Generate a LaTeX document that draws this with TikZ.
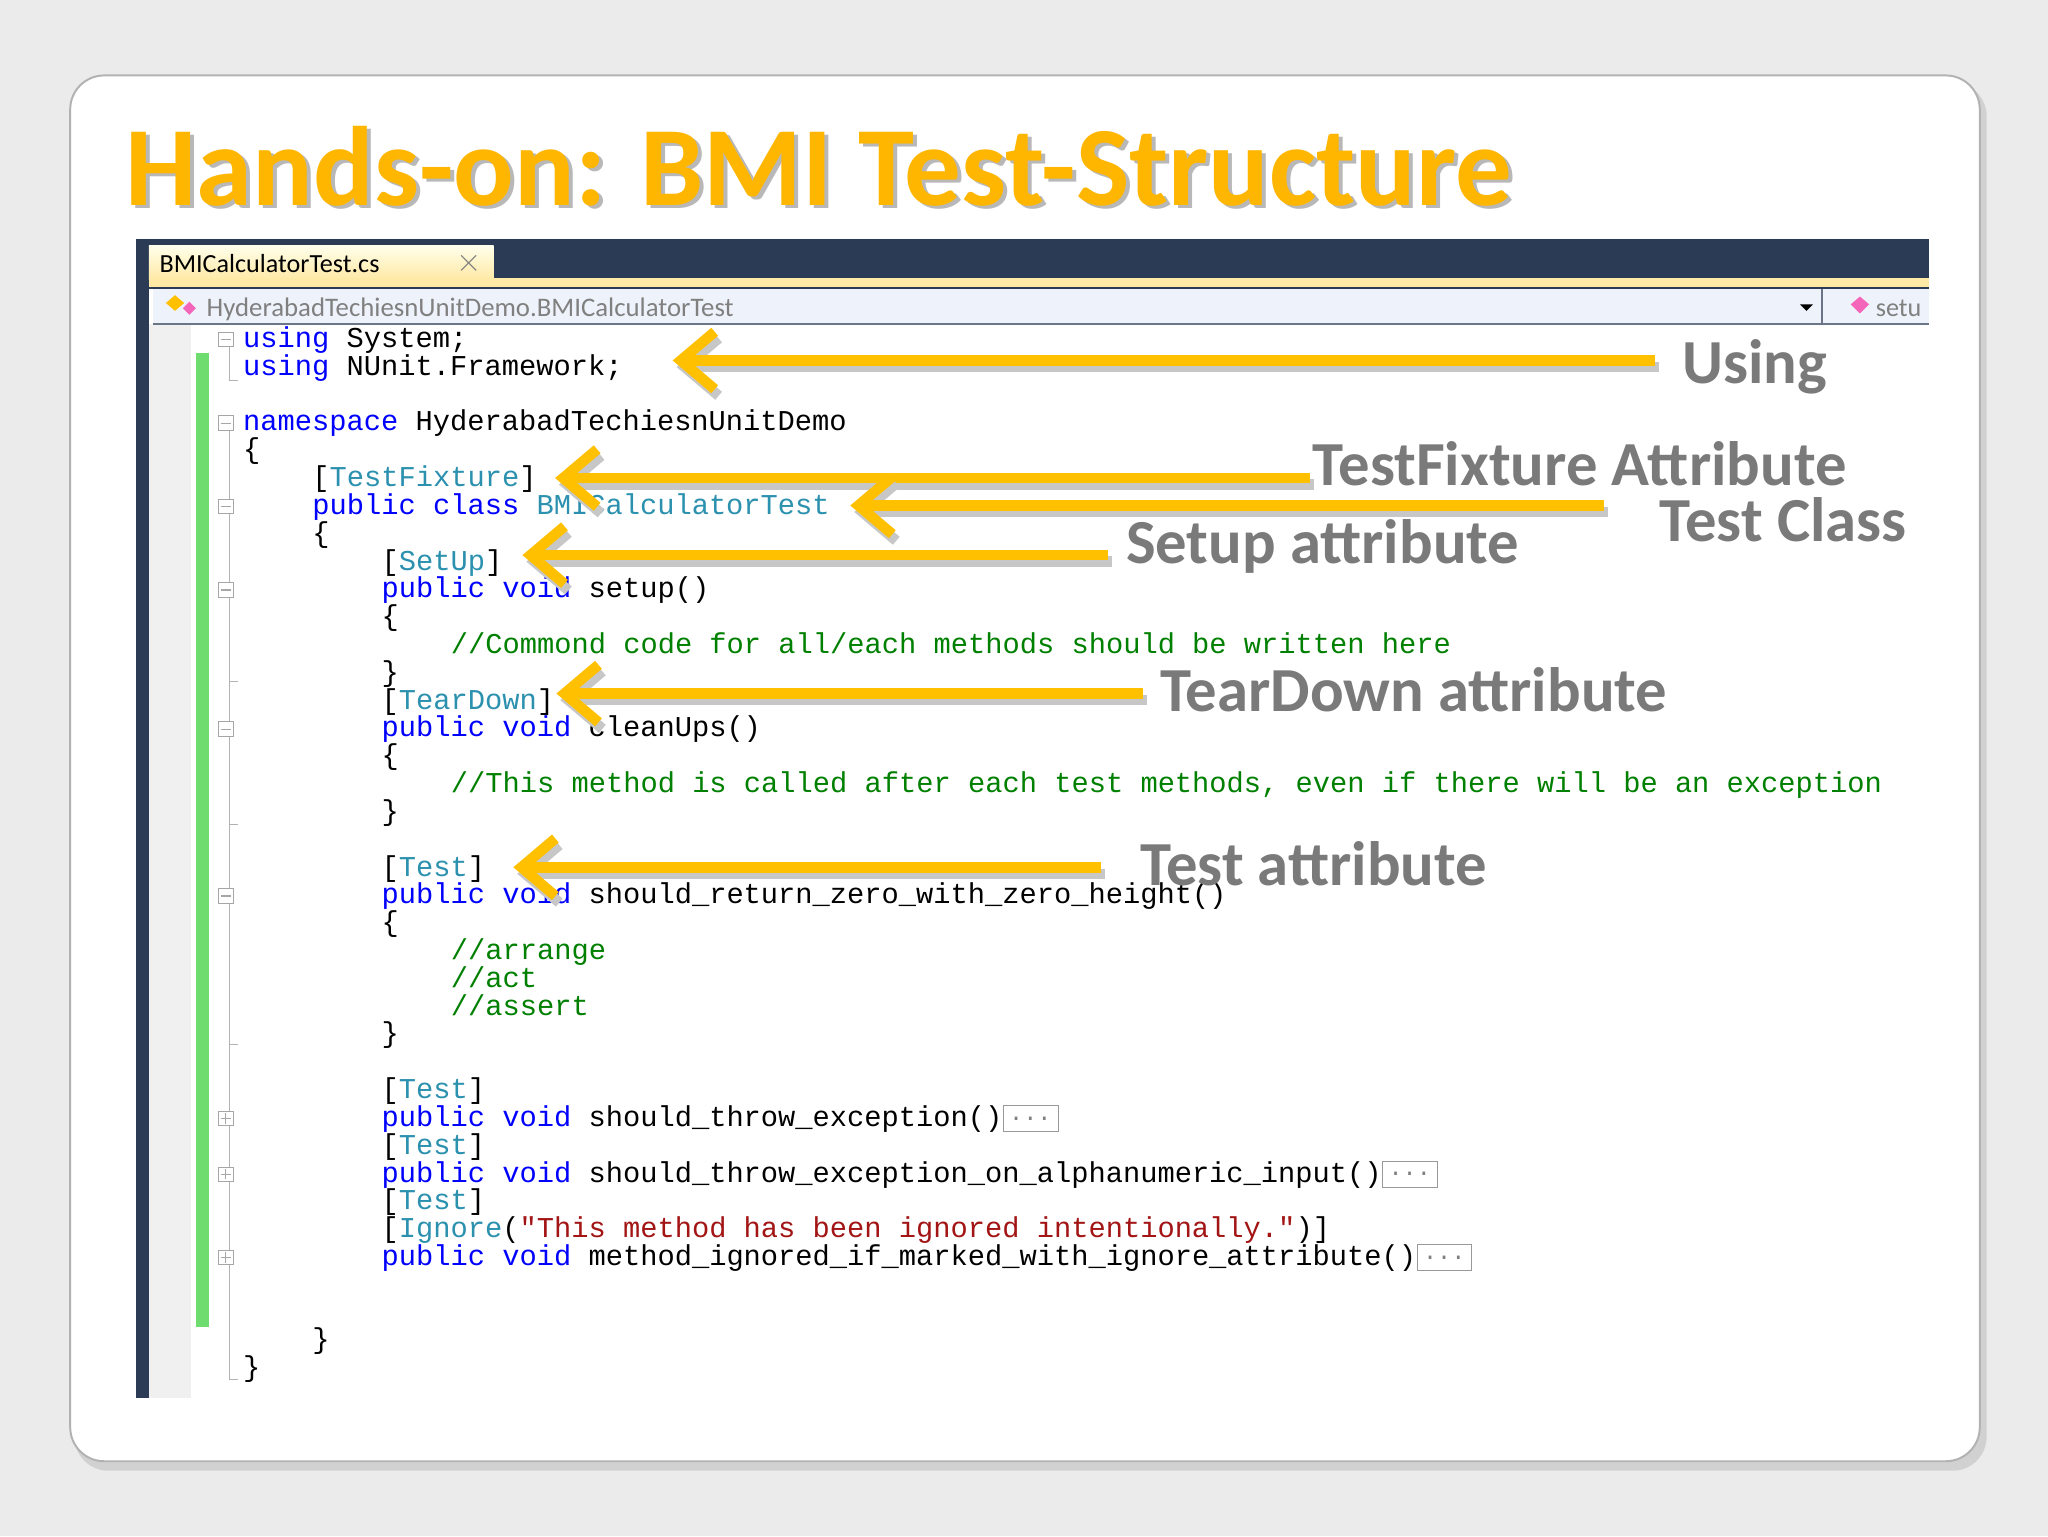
\documentclass[tikz,border=0pt]{standalone}
\usepackage{fontspec}
\setmainfont{Carlito}
\newfontfamily\codefont{Liberation Mono}
\usetikzlibrary{arrows.meta}
\definecolor{kw}{HTML}{0000FF}
\definecolor{ty}{HTML}{2B91AF}
\definecolor{cm}{HTML}{008000}
\definecolor{st}{HTML}{A31515}
\definecolor{orng}{HTML}{FFC000}
\definecolor{lbl}{HTML}{7A7A7A}
\definecolor{navy}{HTML}{2B3A55}
\definecolor{bgg}{HTML}{EBEBEB}
\definecolor{navbg}{HTML}{EEF2FA}
\definecolor{grn}{HTML}{6FDC6F}
\newcommand{\kw}[1]{\textcolor{kw}{#1}}
\newcommand{\ty}[1]{\textcolor{ty}{#1}}
\newcommand{\cmt}[1]{\textcolor{cm}{#1}}
\tikzset{
 code/.style={anchor=base west,inner sep=0pt,font=\codefont\fontsize{22}{22}\selectfont},
 lab/.style={inner sep=0pt,text=lbl,font=\bfseries\fontsize{48}{50}\selectfont},
 arr/.style={draw=orng,line width=8pt,-{Straight Barb[length=26pt,width=44pt,line width=8pt]}},
 arrsh/.style={draw=black!22,line width=8pt,-{Straight Barb[length=26pt,width=44pt,line width=8pt]}},
 fold/.style={draw=gray!70,fill=white,minimum size=11pt,inner sep=0pt,line width=0.8pt},
 ell/.style={draw=gray!80,anchor=west,minimum width=42pt,minimum height=20pt,inner sep=0pt,font=\codefont\fontsize{18}{18}\selectfont,text=gray},
 ttl/.style={anchor=base west,inner sep=0pt,font=\bfseries\fontsize{86.5}{90}\selectfont},
}
\newcommand{\cl}[4]{\node[code] (c#1) at ({186+13.25*#2},{266+21.3*#3}) {#4};}
\begin{document}
\begin{tikzpicture}[x={(1pt,0)},y={(0,-1pt)}]
\useasboundingbox (0,0) rectangle (1568,1176);
\fill[bgg] (0,0) rectangle (1568,1176);
\fill[black!18,rounded corners=26pt] (57,63) rectangle (1521,1126);
\node[draw=gray!60,fill=white,rounded corners=26pt,line width=1.5pt,minimum width=1462pt,minimum height=1061pt,anchor=north west,inner sep=0pt] (card) at (53,57) {};
% title
\node[ttl,text=black!28] (tsh) at (99,160) {Hands-on: BMI Test-Structure};
\node[ttl,text=orng!95!red] (title) at (96,157) {Hands-on: BMI Test-Structure};
% editor frame
\fill[navy] (104,183) rectangle (1477,221);
\fill[navy] (104,221) rectangle (114,1070);
\fill[white] (114,248) rectangle (1477,1070);
\fill[black!6] (114,248) rectangle (146,1070);
\shade[top color=yellow!8,bottom color=orng!35] (114,188) rectangle (378,214);
\fill[orng!35] (114,213) rectangle (1477,220);
\node[anchor=base west,inner sep=0pt,font=\fontsize{20}{20}\selectfont] (tab) at (122,209) {BMICalculatorTest.cs};
\node[anchor=center,inner sep=0pt,text=gray,font=\fontsize{26}{26}\selectfont] (x) at (359,202) {$\times$};
\fill[navbg] (117,221) rectangle (1477,247);
\draw[navy!70,line width=1.2pt] (117,248) -- (1477,248) (1395,221) -- (1395,248);
\node[anchor=base west,inner sep=0pt,text=gray,font=\fontsize{20.5}{20}\selectfont] (nav) at (158,242) {HyderabadTechiesnUnitDemo.BMICalculatorTest};
\fill[orng] (127,232) -- (134,226) -- (141,232) -- (134,238) -- cycle;
\fill[magenta!60] (140,236) -- (145,231) -- (150,236) -- (145,241) -- cycle;
\fill[black] (1378,233) -- (1388,233) -- (1383,238) -- cycle;
\fill[magenta!60] (1417,233) -- (1424,227) -- (1431,233) -- (1424,240) -- cycle;
\node[anchor=base west,inner sep=0pt,text=gray,font=\fontsize{20}{20}\selectfont] (nav2) at (1436,242) {setu};
% green bar and outline
\fill[grn] (150,270) rectangle (160,1016);
\draw[gray!60,line width=0.8pt] (176,266) -- (176,291) -- (182,291);
\draw[gray!60,line width=0.8pt] (176,330) -- (176,1056) -- (182,1056);
\foreach \yy in {522,631,800}{\draw[gray!60,line width=0.8pt] (176,\yy) -- (182,\yy);}
\foreach \k/\n in {0/f0,3/f3,6/f6,9/f9,14/f14,20/f20}{
  \node[fold] (\n) at (173,{260+21.3*\k}) {}; \draw[gray!70,line width=0.8pt] (169,{260+21.3*\k}) -- (177,{260+21.3*\k});}
\foreach \k/\n in {28/p28,30/p30,33/p33}{
  \node[fold] (\n) at (173,{260+21.3*\k}) {}; \draw[gray!70,line width=0.8pt] (169,{260+21.3*\k}) -- (177,{260+21.3*\k}) (173,{256+21.3*\k}) -- (173,{264+21.3*\k});}
% code
\cl{0}{0}{0}{\kw{using} System;}
\cl{1}{0}{1}{\kw{using} NUnit.Framework;}
\cl{3}{0}{3}{\kw{namespace} HyderabadTechiesnUnitDemo}
\cl{4}{0}{4}{\{}
\cl{5}{4}{5}{[\ty{TestFixture}]}
\cl{6}{4}{6}{\kw{public} \kw{class} \ty{BMICalculatorTest}}
\cl{7}{4}{7}{\{}
\cl{8}{8}{8}{[\ty{SetUp}]}
\cl{9}{8}{9}{\kw{public} \kw{void} setup()}
\cl{10}{8}{10}{\{}
\cl{11}{12}{11}{\cmt{//Commond code for all/each methods should be written here}}
\cl{12}{8}{12}{\}}
\cl{13}{8}{13}{[\ty{TearDown}]}
\cl{14}{8}{14}{\kw{public} \kw{void} cleanUps()}
\cl{15}{8}{15}{\{}
\cl{16}{12}{16}{\cmt{//This method is called after each test methods, even if there will be an exception}}
\cl{17}{8}{17}{\}}
\cl{19}{8}{19}{[\ty{Test}]}
\cl{20}{8}{20}{\kw{public} \kw{void} should\_return\_zero\_with\_zero\_height()}
\cl{21}{8}{21}{\{}
\cl{22}{12}{22}{\cmt{//arrange}}
\cl{23}{12}{23}{\cmt{//act}}
\cl{24}{12}{24}{\cmt{//assert}}
\cl{25}{8}{25}{\}}
\cl{27}{8}{27}{[\ty{Test}]}
\cl{28}{8}{28}{\kw{public} \kw{void} should\_throw\_exception()}
\cl{29}{8}{29}{[\ty{Test}]}
\cl{30}{8}{30}{\kw{public} \kw{void} should\_throw\_exception\_on\_alphanumeric\_input()}
\cl{31}{8}{31}{[\ty{Test}]}
\cl{32}{8}{32}{[\ty{Ignore}(\textcolor{st}{"This method has been ignored intentionally."})]}
\cl{33}{8}{33}{\kw{public} \kw{void} method\_ignored\_if\_marked\_with\_ignore\_attribute()}
\cl{36}{4}{36}{\}}
\cl{37}{0}{37}{\}}
\node[ell] (e28) at (c28.base east) [yshift=6pt] {...};
\node[ell] (e30) at (c30.base east) [yshift=6pt] {...};
\node[ell] (e33) at (c33.base east) [yshift=6pt] {...};
% labels
\node[lab,anchor=west] (lUsing) at (1288,281) {Using};
\node[lab,anchor=west] (lTF) at (1005,355) {TestFixture Attribute};
\node[lab,anchor=east] (lTC) at (1460,398) {Test Class};
\node[lab,anchor=west] (lSU) at (862,418) {Setup attribute};
\node[lab,anchor=west] (lTD) at (888,528) {TearDown attribute};
\node[lab,anchor=west] (lT) at (873,661) {Test attribute};
% arrows
\coordinate (aU) at (1267,276); \coordinate (bU) at (515,276);
\coordinate (aF) at (1003,366); \coordinate (bF) at (425,366);
\coordinate (aC) at (1228,387); \coordinate (bC) at (651,387);
\coordinate (aS) at (848,425); \coordinate (bS) at (400,425);
\coordinate (aD) at (875,531); \coordinate (bD) at (426,531);
\coordinate (aT) at (843,664); \coordinate (bT) at (393,664);
\foreach \a/\b in {aU/bU,aF/bF,aC/bC,aS/bS,aD/bD,aT/bT}{
  \draw[arrsh] ([shift={(3,5)}]\a) -- ([shift={(3,5)}]\b);
  \draw[arr] (\a) -- (\b);}
\end{tikzpicture}
\end{document}
